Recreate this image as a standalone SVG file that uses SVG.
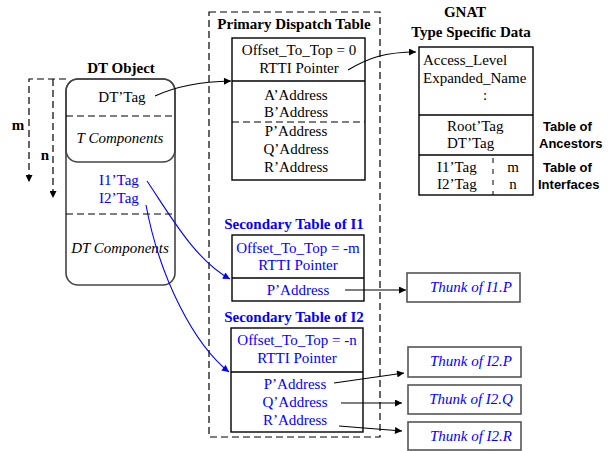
<svg xmlns="http://www.w3.org/2000/svg" width="609" height="451" viewBox="0 0 609 451">
<defs>
<marker id="ak" viewBox="0 0 10 10" refX="10" refY="5" markerWidth="9" markerHeight="7" markerUnits="userSpaceOnUse" orient="auto"><path d="M0,0 L10,5 L0,10 z" fill="#000"/></marker>
<marker id="ab" viewBox="0 0 10 10" refX="10" refY="5" markerWidth="9" markerHeight="7" markerUnits="userSpaceOnUse" orient="auto"><path d="M0,0 L10,5 L0,10 z" fill="#0000ff"/></marker>
<style>
text{font-family:"Liberation Serif","Times New Roman",serif;font-size:15px;fill:#000}
.b{font-weight:bold}
.i{font-style:italic}
.m{text-anchor:middle}
.blue{fill:#0000ff}
.sans{font-family:"Liberation Sans",Arial,sans-serif;font-size:13px;font-weight:bold}
.box{fill:#fff;stroke:#000;stroke-width:1.4}
.gbox{fill:#fff;stroke:#555;stroke-width:1.6}
.dash{fill:none;stroke:#000;stroke-width:1.2;stroke-dasharray:7,4}
.sep{stroke:#000;stroke-width:1.4}
.con{fill:none;stroke:#000;stroke-width:1.1}
.bcon{fill:none;stroke:#0000ff;stroke-width:1.1}
</style>
</defs>

<g id="primary-frame">
<rect x="209" y="12" width="171" height="425" class="dash"/>
<text x="294" y="29" class="b m">Primary Dispatch Table</text>
</g>

<g id="dt-object">
<text x="121" y="73" class="b m">DT Object</text>
<rect x="66" y="79" width="109" height="206" rx="12" fill="#fff" stroke="#444" stroke-width="1.6"/>
<rect x="66" y="79" width="109" height="83" rx="12" fill="none" stroke="#444" stroke-width="1.6"/>
<line x1="66" y1="116" x2="175" y2="116" class="dash" stroke="#444"/>
<line x1="66" y1="214" x2="175" y2="214" class="dash" stroke="#444"/>
<text x="122" y="102" class="m">DT’Tag</text>
<text x="120" y="143" class="i m">T Components</text>
<text x="119" y="185" class="m blue">I1’Tag</text>
<text x="119" y="203" class="m blue">I2’Tag</text>
<text x="120" y="253" class="i m">DT Components</text>
</g>

<g id="offsets">
<polyline points="66,79 29,79 29,182" class="dash" marker-end="url(#ak)"/>
<line x1="53" y1="79" x2="53" y2="198" class="dash" marker-end="url(#ak)"/>
<text x="18" y="130" class="b m">m</text>
<text x="45" y="160" class="b m">n</text>
</g>

<g id="primary-table">
<rect x="232" y="38" width="133" height="142" class="box"/>
<line x1="232" y1="81" x2="365" y2="81" class="sep"/>
<line x1="232" y1="122" x2="365" y2="122" class="dash"/>
<text x="299" y="55" class="m">Offset_To_Top = 0</text>
<text x="299" y="73" class="m">RTTI Pointer</text>
<text x="296" y="100" class="m">A’Address</text>
<text x="296" y="117" class="m">B’Address</text>
<text x="296" y="136" class="m">P’Address</text>
<text x="296" y="154" class="m">Q’Address</text>
<text x="296" y="172" class="m">R’Address</text>
</g>

<g id="type-specific-data">
<text x="465" y="17" class="b m">GNAT</text>
<text x="471" y="37" class="b m">Type Specific Data</text>
<rect x="419" y="47" width="114" height="148" class="box"/>
<line x1="419" y1="115" x2="533" y2="115" class="sep"/>
<line x1="419" y1="155" x2="533" y2="155" class="sep"/>
<line x1="493" y1="158" x2="493" y2="195" fill="none" stroke="#000" stroke-width="1" stroke-dasharray="5,6"/>
<text x="423" y="65">Access_Level</text>
<text x="423" y="83">Expanded_Name</text>
<text x="485" y="100" class="m">:</text>
<text x="447" y="131">Root’Tag</text>
<text x="447" y="148">DT’Tag</text>
<text x="437" y="172">I1’Tag</text>
<text x="437" y="189">I2’Tag</text>
<text x="513" y="172" class="m">m</text>
<text x="513" y="189" class="m">n</text>
<text x="543" y="131" class="sans">Table of</text>
<text x="539" y="148" class="sans">Ancestors</text>
<text x="543" y="172" class="sans">Table of</text>
<text x="538" y="189" class="sans">Interfaces</text>
</g>

<g id="secondary-i1">
<text x="294" y="229" class="b m blue">Secondary Table of I1</text>
<rect x="232" y="235" width="132" height="66" class="box"/>
<line x1="232" y1="278" x2="364" y2="278" class="sep"/>
<text x="298" y="253" class="m blue">Offset_To_Top = -m</text>
<text x="298" y="270" class="m blue">RTTI Pointer</text>
<text x="298" y="295" class="m blue">P’Address</text>
</g>

<g id="secondary-i2">
<text x="294" y="322" class="b m blue">Secondary Table of I2</text>
<rect x="231" y="328" width="132" height="104" class="box"/>
<line x1="231" y1="372" x2="363" y2="372" class="sep"/>
<text x="297" y="345" class="m blue">Offset_To_Top = -n</text>
<text x="297" y="363" class="m blue">RTTI Pointer</text>
<text x="295" y="389" class="m blue">P’Address</text>
<text x="295" y="407" class="m blue">Q’Address</text>
<text x="295" y="425" class="m blue">R’Address</text>
</g>

<g id="thunk-i1-p">
<rect x="407" y="273" width="113" height="29" class="gbox"/>
<text x="471" y="292" class="i m blue">Thunk of I1.P</text>
</g>
<g id="thunk-i2-p">
<rect x="408" y="347" width="113" height="30" class="gbox"/>
<text x="471" y="366" class="i m blue">Thunk of I2.P</text>
</g>
<g id="thunk-i2-q">
<rect x="408" y="385" width="113" height="29" class="gbox"/>
<text x="471" y="404" class="i m blue">Thunk of I2.Q</text>
</g>
<g id="thunk-i2-r">
<rect x="408" y="422" width="113" height="28" class="gbox"/>
<text x="471" y="441" class="i m blue">Thunk of I2.R</text>
</g>

<g id="connectors">
<path d="M155,96 Q185,82 231,81" class="con" marker-end="url(#ak)"/>
<path d="M348,70 C368,58 385,52 416,52" class="con" marker-end="url(#ak)"/>
<path d="M147,181 C170,215 195,260 230,279" class="bcon" marker-end="url(#ab)"/>
<path d="M146,205 C160,280 195,345 229,372" class="bcon" marker-end="url(#ab)"/>
<line x1="345" y1="290" x2="406" y2="290" class="con" marker-end="url(#ak)"/>
<line x1="334" y1="383" x2="404" y2="373" class="con" marker-end="url(#ak)"/>
<line x1="341" y1="403" x2="402" y2="403" class="con" marker-end="url(#ak)"/>
<line x1="339" y1="426" x2="402" y2="431" class="con" marker-end="url(#ak)"/>
</g>
</svg>
